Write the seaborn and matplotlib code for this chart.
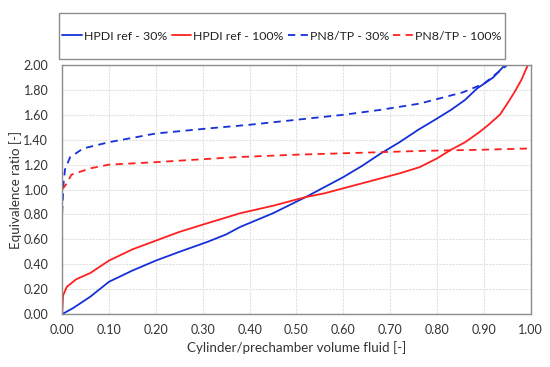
import numpy as np
import pandas as pd
import seaborn as sns
import matplotlib.pyplot as plt
from matplotlib.patches import Rectangle

# Curves
hpdi30_x = [0, 0.024, 0.04, 0.06, 0.08, 0.10, 0.15, 0.20, 0.25, 0.31, 0.35, 0.38, 0.45, 0.52, 0.56,
            0.60, 0.64, 0.68, 0.72, 0.76, 0.80, 0.83, 0.86, 0.885, 0.92, 0.945]
hpdi30_y = [0, 0.05, 0.09, 0.14, 0.20, 0.26, 0.35, 0.43, 0.50, 0.58, 0.64, 0.70, 0.81, 0.94, 1.02,
            1.10, 1.19, 1.29, 1.38, 1.48, 1.57, 1.64, 1.72, 1.81, 1.90, 2.00]

hpdi100_x = [0, 0.002, 0.01, 0.03, 0.06, 0.10, 0.15, 0.20, 0.25, 0.31, 0.38, 0.45, 0.52, 0.56, 0.60,
             0.64, 0.68, 0.72, 0.763, 0.80, 0.83, 0.86, 0.89, 0.91, 0.934, 0.95, 0.965, 0.98, 0.994]
hpdi100_y = [0.0, 0.15, 0.22, 0.28, 0.33, 0.43, 0.52, 0.59, 0.66, 0.73, 0.81, 0.87, 0.94, 0.97, 1.01,
             1.05, 1.09, 1.13, 1.18, 1.25, 1.32, 1.38, 1.46, 1.52, 1.60, 1.69, 1.78, 1.88, 2.00]

pn30_x = [0, 0.003, 0.006, 0.017, 0.045, 0.10, 0.20, 0.31, 0.40, 0.50, 0.60, 0.68, 0.763, 0.855, 0.90, 0.95]
pn30_y = [0.81, 1.05, 1.16, 1.26, 1.33, 1.38, 1.45, 1.49, 1.52, 1.56, 1.60, 1.64, 1.69, 1.78, 1.85, 2.00]

pn100_x = [0, 0.01, 0.02, 0.06, 0.10, 0.20, 0.37, 0.50, 0.68, 0.763, 0.90, 1.0]
pn100_y = [1.0, 1.05, 1.12, 1.17, 1.20, 1.22, 1.26, 1.28, 1.30, 1.31, 1.32, 1.33]

labels = ["HPDI ref - 30%", "HPDI ref - 100%", "PN8/TP - 30%", "PN8/TP - 100%"]
xticks = np.round(np.arange(0, 1.01, 0.1), 2)
yticks = np.round(np.arange(0, 2.01, 0.2), 2)

frames = []
for lab, xs, ys in zip(labels, [hpdi30_x, hpdi100_x, pn30_x, pn100_x],
                       [hpdi30_y, hpdi100_y, pn30_y, pn100_y]):
    frames.append(pd.DataFrame({"x": xs, "y": ys, "series": lab}))
df = pd.concat(frames, ignore_index=True)

sns.set_style("white")
plt.rcParams['font.family'] = ['Lato', 'DejaVu Sans']

blue = "#1530d8"
red = "#ff1f1f"
palette = {labels[0]: blue, labels[1]: red, labels[2]: blue, labels[3]: red}
dashes = {labels[0]: "", labels[1]: "", labels[2]: (4, 3), labels[3]: (4, 3)}

fig = plt.figure(figsize=(5.5, 3.67), dpi=100)
ax = fig.add_axes([0.113, 0.144, 0.852, 0.679])

sns.lineplot(data=df, x="x", y="y", hue="series", style="series", palette=palette,
             dashes=dashes, sort=False, estimator=None, linewidth=1.3, ax=ax, legend=False)

ax.set_xlim(0, 1)
ax.set_ylim(0, 2)
ax.set_xticks(xticks)
ax.set_yticks(yticks)
ax.set_xticklabels([f"{v:.2f}" for v in xticks], fontsize=9, color="#333333")
ax.set_yticklabels([f"{v:.2f}" for v in yticks], fontsize=9, color="#333333")
ax.tick_params(axis="both", length=0)
ax.tick_params(axis="y", pad=10)
ax.tick_params(axis="x", pad=7)
ax.grid(True, color="#e0e0e0", linestyle=(0, (2, 1)), linewidth=0.8)
for s in ax.spines.values():
    s.set_color("#8c8c8c")
    s.set_linewidth(1.0)
ax.set_xlabel("Cylinder/prechamber volume fluid [-]", fontsize=9.6, color="#333333", labelpad=4)
ax.set_ylabel("Equivalence ratio [-]", fontsize=9.6, color="#333333", labelpad=1)

# legend box above the plot
fig.patches.append(Rectangle((0.107, 0.839), 0.811, 0.125, transform=fig.transFigure,
                             facecolor="white", edgecolor="#8c8c8c", linewidth=1.0))
handles = [plt.Line2D([], [], color=palette[l], linewidth=1.3,
                      linestyle="-" if dashes[l] == "" else (0, (4, 3))) for l in labels]
fig.legend(handles, labels, loc="center", bbox_to_anchor=(0.5125, 0.9015), ncol=4,
           frameon=False, fontsize=8.9, handlelength=1.6, handletextpad=0.15,
           columnspacing=0.35, labelcolor="#222222")

fig.savefig("out.png", dpi=100)
